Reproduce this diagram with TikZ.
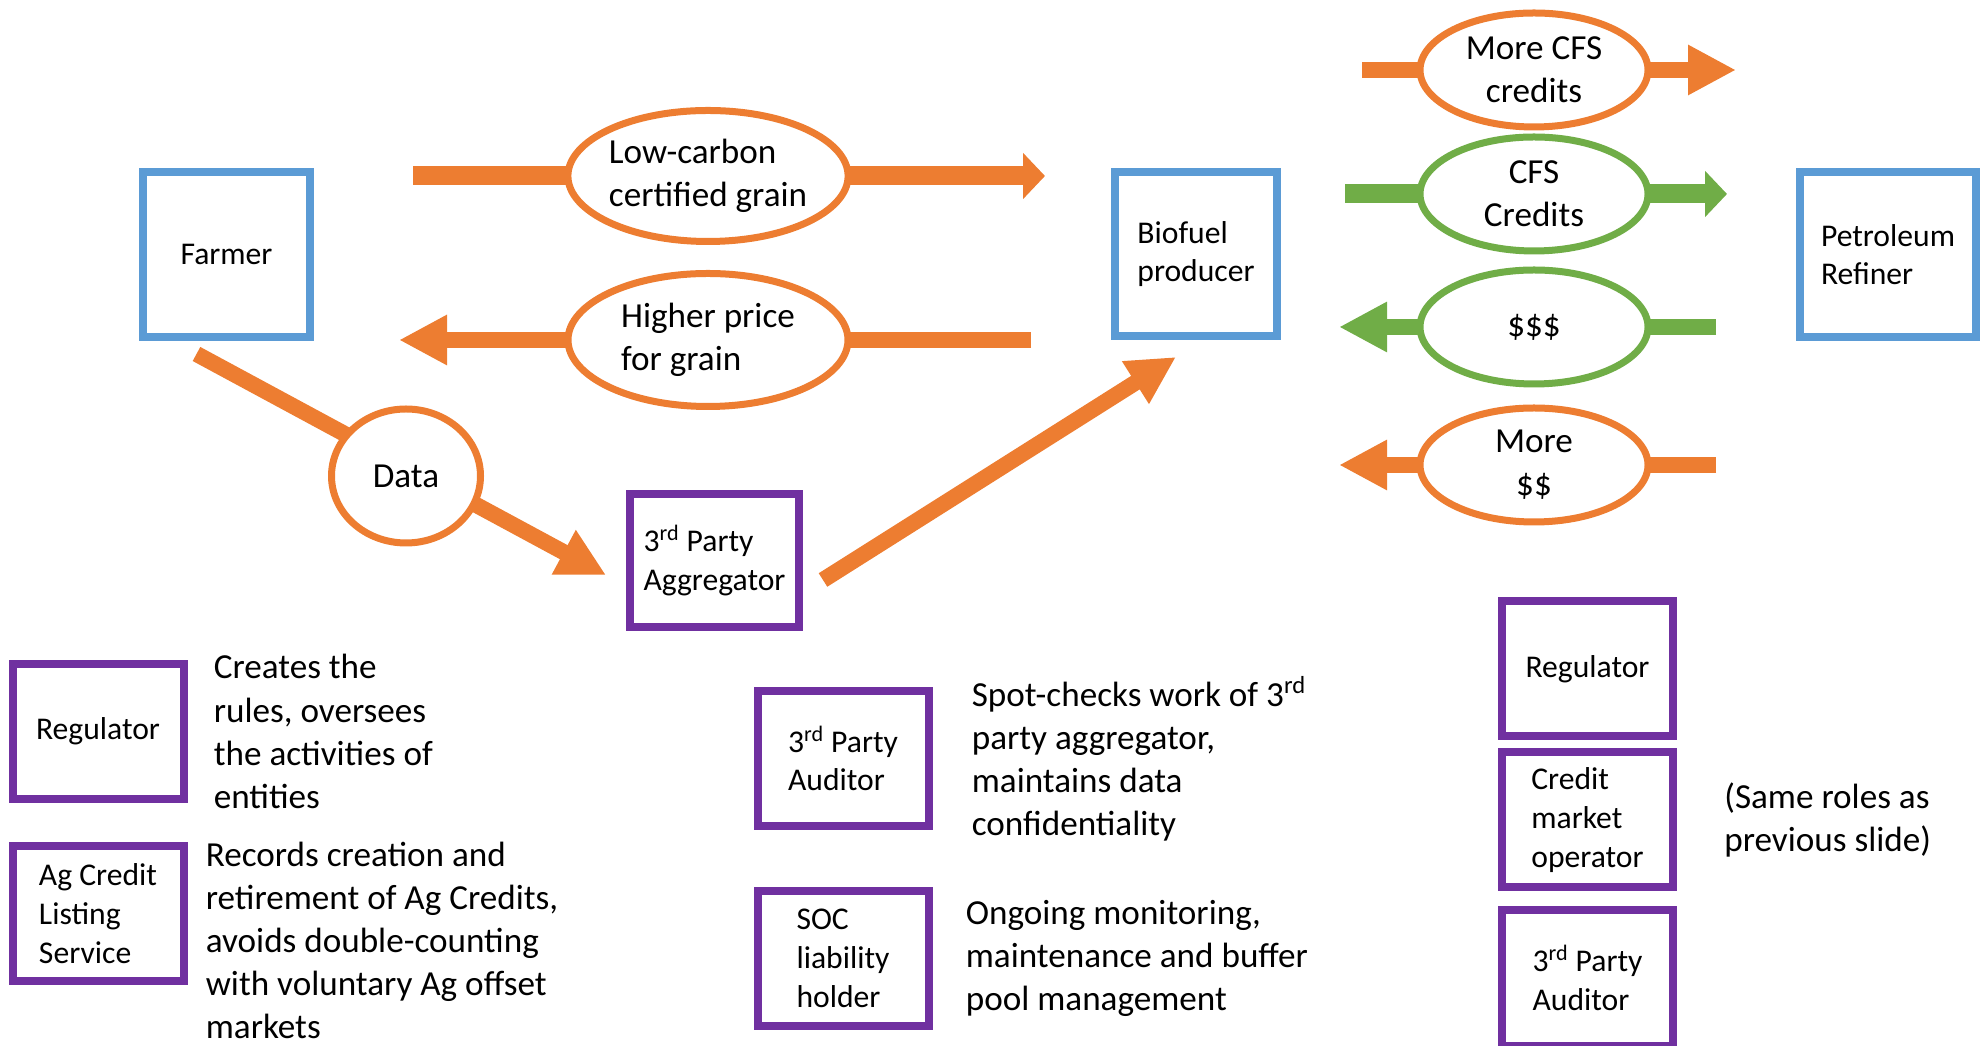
\documentclass[tikz,border=0pt]{standalone}
\usepackage{fontspec}
\setmainfont{Carlito}
\usetikzlibrary{shapes.geometric, arrows.meta, positioning, calc, backgrounds}

\definecolor{cfsorange}{RGB}{237,125,49}
\definecolor{cfsblue}{RGB}{91,155,213}
\definecolor{cfsgreen}{RGB}{112,173,71}
\definecolor{cfspurple}{RGB}{112,48,160}

\begin{document}
\begin{tikzpicture}[
  box/.style={
    rectangle, draw, align=left, fill=white,
    line width=0.16cm,
    font=\fontsize{18}{22}\selectfont
  },
  actor/.style={
    box,
    draw=cfsblue,
    minimum width=3.34cm, minimum height=3.3cm
  },
  role/.style={
    box,
    draw=cfspurple,
    minimum width=3.42cm, minimum height=2.7cm
  },
  flow/.style={
    ellipse, draw, fill=white, align=center,
    line width=0.14cm, inner sep=0pt,
    font=\fontsize{20}{24.5}\selectfont
  },
  flowO/.style={flow, draw=cfsorange},
  flowG/.style={flow, draw=cfsgreen, minimum width=4.56cm, minimum height=2.28cm},
  desc/.style={
    align=left, inner sep=0pt,
    font=\fontsize{20}{24.5}\selectfont
  },
  pipeO/.style={cfsorange, line width=0.32cm},
  pipeG/.style={cfsgreen, line width=0.32cm},
  bigtip/.style={-{Triangle[length=0.96cm, width=0.94cm]}},
  smalltip/.style={-{Triangle[length=0.44cm, width=0.9cm]}}
]

\useasboundingbox (0,0) rectangle (39.7,20.9);

%% Main actors
\node[actor] (farmer) at (4.53,15.81) {Farmer};
\node[actor, minimum width=3.24cm, minimum height=3.28cm]
  (biofuel) at (23.92,15.82) {Biofuel\\producer};
\node[actor, minimum width=3.52cm]
  (refiner) at (37.76,15.81) {Petroleum\\Refiner};
\node[role, minimum width=3.38cm, minimum height=2.66cm]
  (agg) at (14.29,9.69) {3\textsuperscript{rd} Party\\Aggregator};

%% Flows farmer <-> biofuel producer
\node[flowO, align=left, minimum width=5.6cm, minimum height=2.62cm]
  (grain) at (14.16,17.38) {Low-carbon\\certified grain};
\node[flowO, align=left, minimum width=5.6cm, minimum height=2.66cm]
  (price) at (14.16,14.10) {Higher price\\for grain};
\node[flowO, minimum width=2.98cm, minimum height=2.68cm]
  (data) at (8.12,11.38) {Data};

%% Flows biofuel producer <-> refiner
\node[flowO, minimum width=4.56cm, minimum height=2.28cm]
  (morecfs) at (30.68,19.5) {More CFS\\credits};
\node[flowG] (cfs) at (30.68,17.02) {CFS\\Credits};
\node[flowG] (dollars) at (30.68,14.36) {\$\$\$};
\node[flowO, minimum width=4.56cm, minimum height=2.28cm]
  (moredollars) at (30.68,11.6) {More\\\$\$};

%% Roles, left
\node[role] (reg) at (1.96,6.27) {Regulator};
\node[role, below=0.78cm of reg] (list) {Ag Credit\\Listing\\Service};
\node[desc, right=0.52cm of reg] (regtxt) {%
  Creates the\\rules, oversees\\the activities of\\entities};
\node[desc, right=0.36cm of list.north east, anchor=north west] (listtxt) {%
  Records creation and\\retirement of Ag Credits,\\avoids double-counting\\%
  with voluntary Ag offset\\markets};

%% Roles, middle
\node[role] (audit) at (16.86,5.73) {3\textsuperscript{rd} Party\\Auditor};
\node[role, below=1.14cm of audit] (soc) {SOC\\liability\\holder};
\node[desc, right=0.78cm of audit] (audittxt) {%
  Spot-checks work of 3\textsuperscript{rd}\\party aggregator,\\maintains data\\confidentiality};
\node[desc, right=0.66cm of soc] (soctxt) {%
  Ongoing monitoring,\\maintenance and buffer\\pool management};

%% Roles, right
\node[role] (reg2) at (31.75,7.52) {Regulator};
\node[role, below=0.16cm of reg2] (cmo) {Credit\\market\\operator};
\node[role, below=0.3cm of cmo] (audit2) {3\textsuperscript{rd} Party\\Auditor};
\node[desc, right=0.94cm of cmo] (sametxt) {(Same roles as\\previous slide)};

%% --- Arrows ---
\begin{scope}[on background layer]
\draw[pipeO, line width=0.38cm, smalltip, shorten <=1.98cm, shorten >=1.32cm]
  (farmer.east |- grain) -- (biofuel.west |- grain);
\draw[pipeO, bigtip, shorten <=1.6cm, shorten >=1.7cm]
  (biofuel.west |- price) -- (farmer.east |- price);
\draw[pipeO, bigtip]
  ([shift={(-0.6,-0.26)}]farmer.south) -- ([shift={(-0.4,-0.29)}]agg.west);
\draw[pipeO, bigtip]
  ([shift={(0.4,-0.39)}]agg.east) -- ([shift={(-0.4,-0.34)}]biofuel.south);

\draw[pipeO, bigtip, shorten <=1.62cm, shorten >=1.2cm]
  (biofuel.east |- morecfs) -- (refiner.west |- morecfs);
\draw[pipeG, line width=0.38cm, smalltip, shorten <=1.28cm, shorten >=1.38cm]
  (biofuel.east |- cfs) -- (refiner.west |- cfs);
\draw[pipeG, bigtip, shorten <=1.6cm, shorten >=1.16cm]
  (refiner.west |- dollars) -- (biofuel.east |- dollars);
\draw[pipeO, bigtip, shorten <=1.6cm, shorten >=1.16cm]
  (refiner.west |- moredollars) -- (biofuel.east |- moredollars);
\end{scope}

\end{tikzpicture}
\end{document}
